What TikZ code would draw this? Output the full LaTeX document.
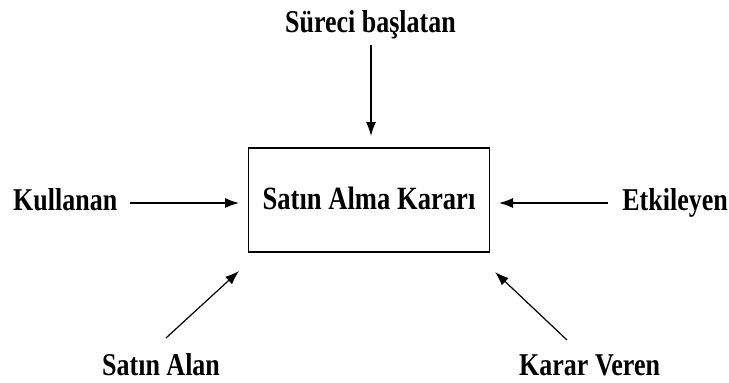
\documentclass[tikz,border=0pt]{standalone}
\usepackage{fontspec}
\setmainfont{Liberation Serif}
\usetikzlibrary{arrows.meta}
\newcommand{\stx}[1]{\scalebox{1}[1.22]{#1}}
\begin{document}
\begin{tikzpicture}[x=1pt,y=-1pt,
  lbl/.style={inner sep=0pt,font=\bfseries\fontsize{26}{30}\selectfont},
  boxnode/.style={draw,line width=1.2pt,minimum width=241pt,minimum height=104pt,inner sep=0pt},
  arr/.style={line width=1.2pt,-{Latex[length=14pt,width=10pt]}}]
\useasboundingbox (0,0) rectangle (729,383);
\node[boxnode] (box) at (369,200) {};
\node[lbl,anchor=base,font=\bfseries\fontsize{26.6}{30}\selectfont] (mid) at (369,209) {\stx{Satın Alma Kararı}};
\node[lbl,anchor=base] (top) at (370.5,32) {\stx{Süreci başlatan}};
\node[lbl,anchor=base west] (kul) at (13,210) {\stx{Kullanan}};
\node[lbl,anchor=base east] (etk) at (728,210) {\stx{Etkileyen}};
\node[lbl,anchor=base west] (sal) at (102,375) {\stx{Satın Alan}};
\node[lbl,anchor=base west] (kv) at (519,375) {\stx{Karar Veren}};
\coordinate (t1) at (371,45);
\coordinate (t2) at (371,136);
\coordinate (k1) at (130,203);
\coordinate (k2) at (239,203);
\coordinate (e1) at (608,203);
\coordinate (e2) at (499,203);
\coordinate (s1) at (166,338);
\coordinate (s2) at (239,271);
\coordinate (v1) at (567,340);
\coordinate (v2) at (495,272);
\draw[arr] (t1) -- (t2);
\draw[arr] (k1) -- (k2);
\draw[arr] (e1) -- (e2);
\draw[arr] (s1) -- (s2);
\draw[arr] (v1) -- (v2);
\end{tikzpicture}
\end{document}
